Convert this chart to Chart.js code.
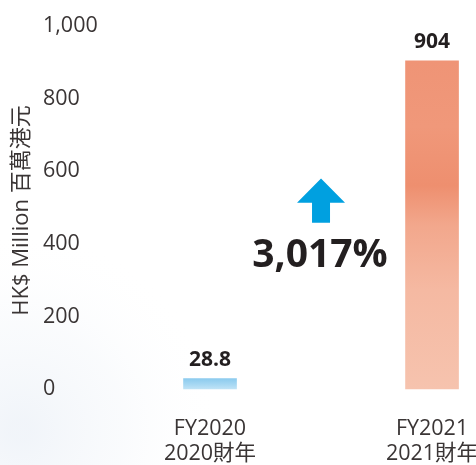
<!DOCTYPE html>
<html>
<head>
<meta charset="utf-8">
<script src="https://cdn.jsdelivr.net/npm/chart.js@4/dist/chart.umd.min.js"></script>
<style>
  html, body { margin: 0; padding: 0; background: #ffffff; }
  #wrap { position: relative; width: 476px; height: 465px; }
</style>
</head>
<body>
<div id="wrap"><canvas id="c" width="476" height="465"></canvas></div>
<script>
// ---- data ----
const categories = ['FY2020', 'FY2021'];
const categoriesZh = ['2020財年', '2021財年'];
const values = [28.8, 904];
const valueLabels = ['28.8', '904'];
const yTicks = [0, 200, 400, 600, 800, 1000];
const yTitle = 'HK$ Million 百萬港元';
const changeLabel = '3,017%';

const FONT = "'Open Sans', 'Noto Sans CJK TC', 'Noto Sans', sans-serif";
const TEXT = '#3a3535';
const DARK = '#231f20';

const ctx = document.getElementById('c').getContext('2d');

function barFill(context) {
  const chart = context.chart;
  const area = chart.chartArea;
  const ys = chart.scales && chart.scales.y;
  const i = context.dataIndex;
  if (!area || !ys) return i === 0 ? '#a3d6f2' : '#f2a88c';
  const top = ys.getPixelForValue(values[i]);
  const bot = ys.getPixelForValue(0);
  if (!isFinite(top) || !isFinite(bot) || top === bot) return i === 0 ? '#a3d6f2' : '#f2a88c';
  const c = chart.ctx;
  const g = c.createLinearGradient(0, top, 0, bot);
  if (i === 0) {
    g.addColorStop(0, '#8ccbee');
    g.addColorStop(0.5, '#a3d6f2');
    g.addColorStop(1, '#bfe3f6');
    return g;
  }
  g.addColorStop(0, '#ef9476');
  g.addColorStop(0.2, '#f0987a');
  g.addColorStop(0.38, '#ee8f6f');
  g.addColorStop(0.5, '#f2a78c');
  g.addColorStop(0.7, '#f5b9a2');
  g.addColorStop(1, '#f6c3ae');
  return g;
}

const bgPlugin = {
  id: 'bgWash',
  beforeDraw(chart) {
    const c = chart.ctx;
    c.save();
    c.fillStyle = '#ffffff';
    c.fillRect(0, 0, chart.width, chart.height);
    const g = c.createRadialGradient(20, 430, 10, 20, 430, 200);
    g.addColorStop(0, 'rgba(232,238,246,0.6)');
    g.addColorStop(0.5, 'rgba(240,244,249,0.35)');
    g.addColorStop(1, 'rgba(255,255,255,0)');
    c.fillStyle = g;
    c.fillRect(0, 0, chart.width, chart.height);
    c.restore();
  }
};

const labelPlugin = {
  id: 'annot',
  afterDatasetsDraw(chart) {
    const c = chart.ctx;
    const meta = chart.getDatasetMeta(0);
    const xs = chart.scales.x, ys = chart.scales.y;
    c.save();
    // value labels
    c.fillStyle = DARK;
    c.font = "bold 21px " + FONT;
    c.textAlign = 'center';
    c.textBaseline = 'middle';
    meta.data.forEach((bar, i) => {
      c.fillText(valueLabels[i], bar.x, bar.y - 19);
    });
    // y-axis title
    c.save();
    c.translate(22, (chart.chartArea.top + chart.chartArea.bottom) / 2 + 3);
    c.rotate(-Math.PI / 2);
    c.fillStyle = TEXT;
    c.font = "22px " + FONT;
    c.textAlign = 'center';
    c.textBaseline = 'middle';
    c.fillText(yTitle, 0, 0);
    c.restore();
    // arrow between categories
    const cx = xs.getPixelForValue(0.5);
    const yTip = ys.getPixelForValue(580);
    const yNeck = ys.getPixelForValue(513);
    const yBase = ys.getPixelForValue(458);
    c.fillStyle = '#00a0e0';
    c.beginPath();
    c.moveTo(cx, yTip);
    c.lineTo(cx + 24, yNeck);
    c.lineTo(cx + 9, yNeck);
    c.lineTo(cx + 9, yBase);
    c.lineTo(cx - 9, yBase);
    c.lineTo(cx - 9, yNeck);
    c.lineTo(cx - 24, yNeck);
    c.closePath();
    c.fill();
    // percentage
    c.fillStyle = DARK;
    c.font = "bold 39px " + FONT;
    c.textAlign = 'center';
    c.textBaseline = 'alphabetic';
    c.fillText(changeLabel, cx - 1, ys.getPixelForValue(335));
    c.restore();
  }
};

new Chart(ctx, {
  type: 'bar',
  data: {
    datasets: [{
      data: values.map((v, i) => ({ x: i, y: v })),
      backgroundColor: barFill,
      borderWidth: 0,
      barThickness: 53,
      clip: false
    }]
  },
  options: {
    responsive: false,
    animation: false,
    devicePixelRatio: 1,
    layout: { padding: { left: 43, right: 6, top: 26, bottom: 0 } },
    plugins: { legend: { display: false }, tooltip: { enabled: false } },
    scales: {
      x: {
        type: 'linear',
        offset: false,
        min: -0.4505,
        max: 1.171,
        grid: { display: false, drawTicks: false },
        border: { display: false },
        afterBuildTicks(scale) {
          scale.ticks = categories.map((c, i) => ({ value: i }));
        },
        afterFit(scale) {
          scale.paddingLeft = 0; scale.paddingRight = 0;
          scale.paddingTop = 0; scale.paddingBottom = 0;
          scale.height = 76;
        },
        ticks: {
          autoSkip: false,
          maxRotation: 0,
          padding: 27,
          color: TEXT,
          font: { family: FONT, size: 21.5, lineHeight: 1.17 },
          callback: (v) => [categories[v], categoriesZh[v]]
        }
      },
      y: {
        min: 0,
        max: 1000,
        grid: { display: false, drawTicks: false },
        border: { display: false },
        afterFit(scale) {
          scale.width = 67;
          scale.paddingTop = 0; scale.paddingBottom = 0;
        },
        afterBuildTicks(scale) {
          scale.ticks = yTicks.map(v => ({ value: v }));
        },
        ticks: {
          crossAlign: 'far',
          color: TEXT,
          font: { family: FONT, size: 21.5 },
          callback: (v) => v.toLocaleString('en-US')
        }
      }
    }
  },
  plugins: [bgPlugin, labelPlugin]
});
</script>
</body>
</html>
